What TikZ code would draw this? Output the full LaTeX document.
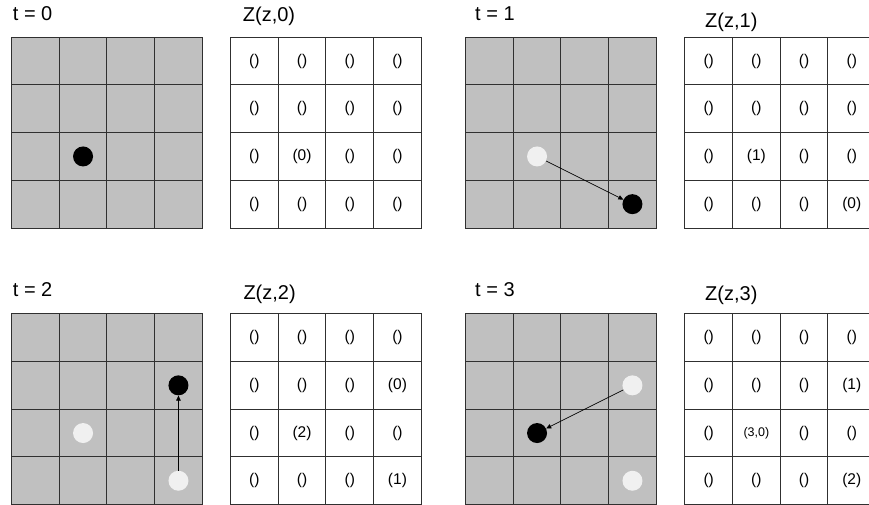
\documentclass[tikz,border=0pt]{standalone}
\usepackage{fontspec}
\setmainfont{Liberation Sans}
\usepackage{xcolor}
\usetikzlibrary{matrix,arrows.meta}
\definecolor{boardgray}{HTML}{C0C0C0}
\definecolor{gridink}{HTML}{303030}
\definecolor{ghostfill}{HTML}{F0F0F0}
\tikzset{
    walkboard/.style={matrix of nodes, nodes in empty cells, inner sep=0pt, outer sep=0pt, anchor=north west,
        column sep=-1pt, row sep=-1pt,
        nodes={draw=gridink, line width=1pt, fill=boardgray, minimum size=47.7pt, inner sep=0pt, anchor=center}},
    ztable/.style={walkboard, nodes={fill=white, font=\fontsize{15.5}{18}\selectfont}},
    smallentry/.style={font=\fontsize{12.5}{15}\selectfont},
    steptitle/.style={anchor=base west, inner sep=0pt, font=\fontsize{20}{24}\selectfont},
    walkerdot/.style={circle, fill=black, minimum size=20pt, inner sep=0pt},
    ghostdot/.style={circle, fill=ghostfill, minimum size=20pt, inner sep=0pt},
    movearrow/.style={draw, -{Triangle[length=5pt, width=4.5pt]}, line width=0.6pt}
}

\begin{document}
\begin{tikzpicture}[x=1pt, y=-1pt]
    \useasboundingbox (0,0) rectangle (869,505);

    % titles
    \node[steptitle] (t0title) at (12.7,20.7) {t = 0};
    \node[steptitle] (z0title) at (242.7,21.7) {Z(z,0)};
    \node[steptitle] (t1title) at (475,20.7) {t = 1};
    \node[steptitle] (z1title) at (705,27.3) {Z(z,1)};
    \node[steptitle] (t2title) at (12.7,296.7) {t = 2};
    \node[steptitle] (z2title) at (243.3,299) {Z(z,2)};
    \node[steptitle] (t3title) at (475,296) {t = 3};
    \node[steptitle] (z3title) at (705,300.7) {Z(z,3)};

    % t = 0
    \matrix (grid0) [walkboard] at (11,36.7) {
        & & & \\
        & & & \\
        & & & \\
        & & & \\
    };
    \matrix (tab0) [ztable] at (230,36.7) {
        () & () & () & () \\
        () & () & () & () \\
        () & (0) & () & () \\
        () & () & () & () \\
    };
    \node[walkerdot] (walk0) at (grid0-3-2) {};

    % t = 1
    \matrix (grid1) [walkboard] at (465,36.7) {
        & & & \\
        & & & \\
        & & & \\
        & & & \\
    };
    \matrix (tab1) [ztable] at (684.3,36.7) {
        () & () & () & () \\
        () & () & () & () \\
        () & (1) & () & () \\
        () & () & () & (0) \\
    };
    \node[ghostdot] (ghost1a) at (grid1-3-2) {};
    \node[walkerdot] (walk1) at (grid1-4-4) {};
    \draw[movearrow] (ghost1a) -- (walk1);

    % t = 2
    \matrix (grid2) [walkboard] at (11,313.3) {
        & & & \\
        & & & \\
        & & & \\
        & & & \\
    };
    \matrix (tab2) [ztable] at (230,313.3) {
        () & () & () & () \\
        () & () & () & (0) \\
        () & (2) & () & () \\
        () & () & () & (1) \\
    };
    \node[ghostdot] (ghost2a) at (grid2-3-2) {};
    \node[ghostdot] (ghost2b) at (grid2-4-4) {};
    \node[walkerdot] (walk2) at (grid2-2-4) {};
    \draw[movearrow] (ghost2b) -- (walk2);

    % t = 3
    \matrix (grid3) [walkboard] at (465,313.3) {
        & & & \\
        & & & \\
        & & & \\
        & & & \\
    };
    \matrix (tab3) [ztable] at (684.3,313.3) {
        () & () & () & () \\
        () & () & () & (1) \\
        () & |[smallentry]| (3,0) & () & () \\
        () & () & () & (2) \\
    };
    \node[ghostdot] (ghost3a) at (grid3-2-4) {};
    \node[ghostdot] (ghost3b) at (grid3-4-4) {};
    \node[walkerdot] (walk3) at (grid3-3-2) {};
    \draw[movearrow] (ghost3a) -- (walk3);
\end{tikzpicture}
\end{document}
